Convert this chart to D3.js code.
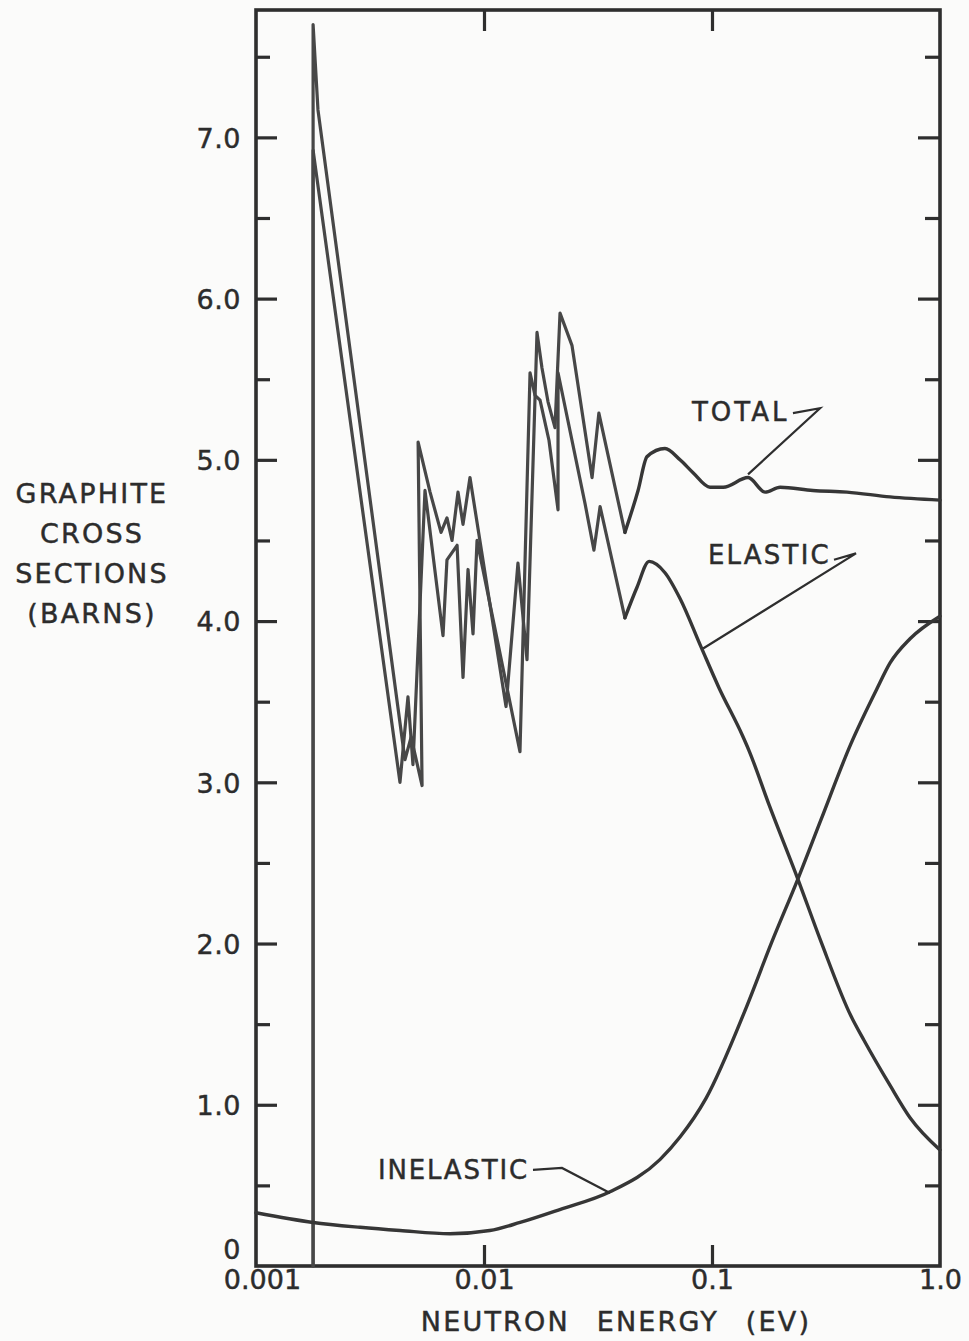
<!DOCTYPE html>
<html>
<head>
<meta charset="utf-8">
<script src="https://cdn.jsdelivr.net/npm/d3@7"></script>
<style>
  body { margin: 0; background: #fbfbfa; }
  svg { display: block; }
  text { font-family: "DejaVu Sans", sans-serif; fill: #2c2c2c; stroke: #2c2c2c; stroke-width: 0.45px; }
</style>
</head>
<body>
<svg id="chart" width="969" height="1341"></svg>
<script>
// Graphite neutron cross sections (barns) versus neutron energy (eV)
const energyTotal = [0.00178, 0.00178, 0.00187, 0.00450, 0.00479, 0.00535, 0.00514, 0.00580, 0.00648, 0.00688,
  0.00724, 0.00769, 0.00809, 0.00868, 0.01249, 0.01409, 0.01544, 0.01708, 0.01796, 0.01909,
  0.02048, 0.02155, 0.02431, 0.02978, 0.0319, 0.0415, 0.0474, 0.0519, 0.0622, 0.0724,
  0.0826, 0.098, 0.112, 0.144, 0.171, 0.199, 0.277, 0.391, 0.604, 1.0];
const sigmaTotal = [0, 7.70, 7.17, 3.14, 3.28, 2.98, 5.11, 4.80, 4.55, 4.64,
  4.50, 4.80, 4.60, 4.89, 3.47, 4.36, 3.76, 5.79, 5.57, 5.36,
  5.20, 5.91, 5.71, 4.89, 5.29, 4.55, 4.81, 5.02, 5.07, 5.00,
  4.92, 4.83, 4.83, 4.89, 4.80, 4.83, 4.81, 4.80, 4.77, 4.75];

const energyElastic = [0.00178, 0.00178, 0.00428, 0.00464, 0.00488, 0.00551, 0.00661, 0.00688, 0.00762, 0.00809,
  0.00851, 0.00895, 0.00932, 0.01438, 0.01592, 0.01674, 0.01761, 0.01928, 0.02112, 0.02112,
  0.02773, 0.03035, 0.0323, 0.0415, 0.0469, 0.0530, 0.0622, 0.0724, 0.0895, 0.107,
  0.136, 0.145, 0.178, 0.238, 0.301, 0.407, 0.464, 0.604, 0.739, 1.0];
const sigmaElastic = [0, 6.92, 3.00, 3.53, 3.11, 4.81, 3.91, 4.38, 4.47, 3.65,
  4.32, 3.92, 4.50, 3.19, 5.54, 5.40, 5.37, 5.12, 4.69, 5.54,
  4.73, 4.44, 4.71, 4.02, 4.21, 4.37, 4.30, 4.14, 3.84, 3.59,
  3.29, 3.20, 2.86, 2.40, 2.01, 1.55, 1.40, 1.12, 0.92, 0.72];

const energyInelastic = [0.001, 0.00178, 0.00286, 0.00428, 0.00709, 0.0106, 0.0144, 0.0215, 0.0357, 0.0591,
  0.0724, 0.0941, 0.141, 0.183, 0.238, 0.301, 0.407, 0.529, 0.604, 0.739, 1.0];
const sigmaInelastic = [0.33, 0.27, 0.24, 0.22, 0.20, 0.22, 0.27, 0.35, 0.46, 0.66,
  0.80, 1.04, 1.60, 2.01, 2.40, 2.77, 3.24, 3.58, 3.74, 3.89, 4.03];

// above this energy the measured curves are smooth
const smoothFromEnergy = 0.0415;

const xTickValues = [0.001, 0.01, 0.1, 1.0];
const xTickLabels = ["0.001", "0.01", "0.1", "1.0"];
const yTickValues = [0, 1, 2, 3, 4, 5, 6, 7];
const yTickLabels = ["0", "1.0", "2.0", "3.0", "4.0", "5.0", "6.0", "7.0"];
const yTitleLines = ["GRAPHITE", "CROSS", "SECTIONS", "(BARNS)"];
const xTitle = "NEUTRON ENERGY (EV)";

// Curve labels: text anchor and leader polyline, in (energy, barns)
const labelNames = ["TOTAL", "ELASTIC", "INELASTIC"];
const labelAt = [[0.0817, 5.30], [0.0960, 4.41], [0.00343, 0.60]];
const labelSpacing = [3, 2.2, 1.8];
const leaderPaths = [
  [[0.2265, 5.29], [0.2977, 5.32], [0.1439, 4.91]],
  [[0.3428, 4.38], [0.4282, 4.42], [0.0914, 3.83]],
  [[0.01640, 0.596], [0.02198, 0.608], [0.0357, 0.453]]
];

const svg = d3.select("#chart");
const ink = "#2e2e2e";
const plotLeft = 256, plotRight = 940, plotTop = 10, plotBottom = 1266;

const x = d3.scaleLog().domain([0.001, 1]).range([plotLeft, plotRight]);
const y = d3.scaleLinear().domain([0, 7.79]).range([plotBottom, plotTop]);

const majorY = d3.range(1, 8);
const minorY = d3.range(0.5, 7.6, 1);

function styleTicks(g) {
  g.select(".domain").remove();
  g.selectAll(".tick line").attr("stroke", ink).attr("stroke-width", 3.2);
}

// inward ticks on all four sides
svg.append("g").attr("transform", `translate(${plotLeft},0)`)
  .call(d3.axisLeft(y).tickValues(majorY).tickSize(-21).tickFormat("")).call(styleTicks);
svg.append("g").attr("transform", `translate(${plotLeft},0)`)
  .call(d3.axisLeft(y).tickValues(minorY).tickSize(-14).tickFormat("")).call(styleTicks);
svg.append("g").attr("transform", `translate(${plotRight},0)`)
  .call(d3.axisRight(y).tickValues(majorY).tickSize(-22).tickFormat("")).call(styleTicks);
svg.append("g").attr("transform", `translate(${plotRight},0)`)
  .call(d3.axisRight(y).tickValues(minorY).tickSize(-15).tickFormat("")).call(styleTicks);
svg.append("g").attr("transform", `translate(0,${plotTop})`)
  .call(d3.axisTop(x).tickValues([0.01, 0.1]).tickSize(-21).tickFormat("")).call(styleTicks);
svg.append("g").attr("transform", `translate(0,${plotBottom})`)
  .call(d3.axisBottom(x).tickValues([0.01, 0.1]).tickSize(-21).tickFormat("")).call(styleTicks);

// frame
svg.append("rect")
  .attr("x", plotLeft).attr("y", plotTop)
  .attr("width", plotRight - plotLeft).attr("height", plotBottom - plotTop)
  .attr("fill", "none").attr("stroke", ink).attr("stroke-width", 3.6);

// tick labels
const yLab = svg.append("g").attr("transform", `translate(${plotLeft},0)`)
  .call(d3.axisLeft(y).tickValues(yTickValues).tickSize(0).tickPadding(15)
    .tickFormat((d, i) => yTickLabels[i]));
yLab.select(".domain").remove();
yLab.selectAll("text").attr("font-size", 27).attr("font-family", "DejaVu Sans").attr("fill", ink)
  .attr("letter-spacing", 0.5)
  .attr("dy", d => d === 0 ? "-0.28em" : "0.36em");

const xLab = svg.append("g").attr("transform", `translate(0,${plotBottom})`)
  .call(d3.axisBottom(x).tickValues(xTickValues).tickSize(0).tickPadding(4)
    .tickFormat((d, i) => xTickLabels[i]));
xLab.select(".domain").remove();
xLab.selectAll("text").attr("font-size", 27).attr("font-family", "DejaVu Sans").attr("fill", ink)
  .attr("dx", d => d === 0.001 ? 6 : 0);

// axis titles
svg.append("text")
  .attr("x", 616).attr("y", 1331)
  .attr("text-anchor", "middle")
  .attr("font-size", 27).attr("word-spacing", 16).attr("letter-spacing", 2.2)
  .text(xTitle);

svg.append("g").selectAll("text").data(yTitleLines).join("text")
  .attr("x", 92).attr("y", (d, i) => 503 + i * 40)
  .attr("text-anchor", "middle")
  .attr("font-size", 27).attr("letter-spacing", 2.2)
  .text(d => d);

// cross-section curves: sharp Bragg edges below smoothFromEnergy, smooth above
const toPoints = (es, ss) => es.map((e, i) => [e, ss[i]]);
const jagged = d3.line().x(d => x(d[0])).y(d => y(d[1]));
const smooth = d3.line().x(d => x(d[0])).y(d => y(d[1])).curve(d3.curveMonotoneX);

const curves = svg.append("g").attr("fill", "none").attr("stroke", "#363636")
  .attr("stroke-width", 3.4).attr("stroke-linejoin", "round").attr("stroke-linecap", "round");

function drawBraggCurve(es, ss) {
  const pts = toPoints(es, ss);
  const k = pts.findIndex(p => p[0] >= smoothFromEnergy);
  curves.append("path").attr("d", jagged(pts.slice(0, k + 1)))
    .attr("stroke", "#474747").attr("stroke-width", 3.2);
  curves.append("path").attr("d", smooth(pts.slice(k)));
}
drawBraggCurve(energyElastic, sigmaElastic);
drawBraggCurve(energyTotal, sigmaTotal);
curves.append("path").attr("d", smooth(toPoints(energyInelastic, sigmaInelastic)));

// curve labels with leader lines
const leader = d3.line().x(d => x(d[0])).y(d => y(d[1]));
svg.append("g").attr("fill", "none").attr("stroke", ink).attr("stroke-width", 2.2)
  .selectAll("path").data(leaderPaths).join("path").attr("d", d => leader(d));
svg.append("g").selectAll("text").data(labelNames).join("text")
  .attr("x", (d, i) => x(labelAt[i][0])).attr("y", (d, i) => y(labelAt[i][1]))
  .attr("dy", "0.36em").attr("font-size", 26).attr("letter-spacing", (d, i) => labelSpacing[i])
  .text(d => d);
</script>
</body>
</html>
